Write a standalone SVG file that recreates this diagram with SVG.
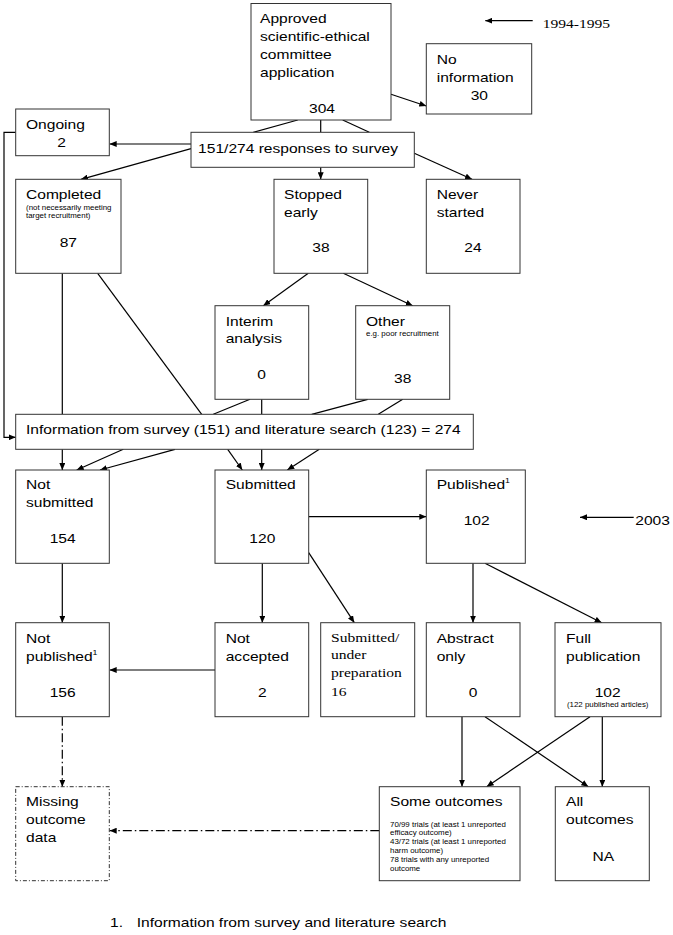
<svg xmlns="http://www.w3.org/2000/svg" width="673" height="935" viewBox="0 0 673 935">
<style>
.bg{fill:#fff}
.box{fill:#fff;stroke:#333;stroke-width:1}
.dbox{fill:#fff;stroke:#333;stroke-width:1;stroke-dasharray:4 2 1 2}
.m{font-family:"Liberation Sans",Arial,sans-serif;font-size:13.2px;fill:#000}
.s{font-size:6.7px}
.sup{font-size:7.5px}
.sf{font-family:"Liberation Serif","Times New Roman",serif}
.c{text-anchor:middle}
.ln{stroke:#000;stroke-width:1.2;fill:none}
.ar{marker-end:url(#ah)}
.dd{stroke-dasharray:9 3 1.5 3}
</style>
<defs>
<marker id="ah" viewBox="0 0 7 6" refX="7" refY="3" markerWidth="7" markerHeight="6" orient="auto" markerUnits="userSpaceOnUse">
<path d="M0,0 L7,3 L0,6 z" fill="#000"/>
</marker>
</defs>
<rect class="bg" x="0" y="0" width="673" height="935"/>

<g id="connectors">
<line class="ln" x1="297.7" y1="120" x2="253.3" y2="132.3"/>
<line class="ln" x1="320.7" y1="120" x2="320.7" y2="132.3"/>
<line class="ln" x1="342.7" y1="120" x2="369.3" y2="132.3"/>
<line class="ln ar" x1="391" y1="94.3" x2="426.3" y2="106"/>
<line class="ln ar" x1="532.7" y1="20.7" x2="485.3" y2="20.7"/>
<line class="ln ar" x1="191" y1="144" x2="109.7" y2="144"/>
<line class="ln ar" x1="191" y1="148.7" x2="81" y2="179.3"/>
<line class="ln ar" x1="320.7" y1="167.3" x2="320.7" y2="179.3"/>
<line class="ln ar" x1="414.3" y1="153.3" x2="472" y2="179.3"/>
<polyline class="ln ar" points="15.7,132.3 4,132.3 4,437.3 15.7,437.3"/>
<line class="ln" x1="62.3" y1="273.3" x2="62.3" y2="414.3"/>
<line class="ln" x1="97.7" y1="273.3" x2="201.7" y2="414.3"/>
<line class="ln ar" x1="308.3" y1="273.3" x2="263.3" y2="305.7"/>
<line class="ln ar" x1="343.3" y1="273.3" x2="412.7" y2="305.7"/>
<line class="ln" x1="250" y1="399.3" x2="213.3" y2="414.3"/>
<line class="ln" x1="261.7" y1="399.3" x2="261.7" y2="414.3"/>
<line class="ln" x1="367.7" y1="399.3" x2="311.7" y2="414.3"/>
<line class="ln" x1="402.7" y1="399.3" x2="378.3" y2="414.3"/>
<line class="ln ar" x1="62.3" y1="449.3" x2="62.3" y2="470"/>
<line class="ln ar" x1="123.3" y1="449.3" x2="76.7" y2="470"/>
<line class="ln ar" x1="175" y1="449.3" x2="100" y2="470"/>
<line class="ln ar" x1="227.7" y1="449.3" x2="242.3" y2="470"/>
<line class="ln ar" x1="261.7" y1="449.3" x2="261.7" y2="470"/>
<line class="ln ar" x1="319.3" y1="449.3" x2="287.3" y2="470"/>
<line class="ln ar" x1="308.7" y1="516.7" x2="426.3" y2="516.7"/>
<line class="ln ar" x1="633.7" y1="517.3" x2="580" y2="517.3"/>
<line class="ln ar" x1="62.3" y1="563.3" x2="62.3" y2="622.7"/>
<line class="ln ar" x1="262.3" y1="563.3" x2="262.3" y2="622.7"/>
<line class="ln ar" x1="308.7" y1="552.7" x2="354.3" y2="622.7"/>
<line class="ln ar" x1="473" y1="563.3" x2="473" y2="622.7"/>
<line class="ln ar" x1="485" y1="563.3" x2="601.7" y2="622.7"/>
<line class="ln ar" x1="215" y1="670" x2="109.7" y2="670"/>
<line class="ln ar dd" x1="62.3" y1="716.7" x2="62.3" y2="786.7"/>
<line class="ln ar" x1="462" y1="716.7" x2="462" y2="786.7"/>
<line class="ln ar" x1="485" y1="716.7" x2="588.3" y2="786.7"/>
<line class="ln ar" x1="590" y1="716.7" x2="486.7" y2="786.7"/>
<line class="ln ar" x1="602.3" y1="716.7" x2="602.3" y2="786.7"/>
<line class="ln ar dd" x1="379.3" y1="830.7" x2="109.7" y2="830.7"/>
</g>

<g id="approved">
<rect class="box" x="251" y="3.5" width="140" height="116.5"/>
<text class="m" transform="translate(260 0) scale(1.18 1)"><tspan x="0" y="22.7">Approved</tspan><tspan x="0" y="40.7">scientific-ethical</tspan><tspan x="0" y="58.7">committee</tspan><tspan x="0" y="76.7">application</tspan></text>
<text class="m c" transform="translate(322 0) scale(1.18 1)" y="112.7">304</text>
</g>
<g id="year1994">
<text class="m sf" transform="translate(542.7 0) scale(1.18 1)" y="28.3">1994-1995</text>
</g>
<g id="noinfo">
<rect class="box" x="426.3" y="43.7" width="105.4" height="70.3"/>
<text class="m" transform="translate(436.7 0) scale(1.18 1)"><tspan x="0" y="64">No</tspan><tspan x="0" y="81.7">information</tspan></text>
<text class="m c" transform="translate(479.3 0) scale(1.18 1)" y="100">30</text>
</g>
<g id="ongoing">
<rect class="box" x="15.7" y="109" width="93.6" height="46.7"/>
<text class="m" transform="translate(26 0) scale(1.18 1)" y="128.7">Ongoing</text>
<text class="m c" transform="translate(61.7 0) scale(1.18 1)" y="146.7">2</text>
</g>
<g id="survey">
<rect class="box" x="191" y="132.3" width="223.3" height="35"/>
<text class="m c" transform="translate(298 0) scale(1.18 1)" y="152.7">151/274 responses to survey</text>
</g>
<g id="completed">
<rect class="box" x="15.7" y="179.3" width="105.3" height="94"/>
<text class="m" transform="translate(26 0) scale(1.18 1)"><tspan x="0" y="199">Completed</tspan><tspan class="s" x="0" y="209.7">(not necessarily meeting</tspan><tspan class="s" x="0" y="218.3">target recruitment)</tspan></text>
<text class="m c" transform="translate(68.3 0) scale(1.18 1)" y="246.7">87</text>
</g>
<g id="stopped">
<rect class="box" x="274" y="179.3" width="93.7" height="94"/>
<text class="m" transform="translate(284 0) scale(1.18 1)"><tspan x="0" y="199">Stopped</tspan><tspan x="0" y="217">early</tspan></text>
<text class="m c" transform="translate(321 0) scale(1.18 1)" y="251.7">38</text>
</g>
<g id="never">
<rect class="box" x="426.3" y="179.3" width="93.7" height="94"/>
<text class="m" transform="translate(436.7 0) scale(1.18 1)"><tspan x="0" y="199">Never</tspan><tspan x="0" y="217">started</tspan></text>
<text class="m c" transform="translate(473 0) scale(1.18 1)" y="252.3">24</text>
</g>
<g id="interim">
<rect class="box" x="215" y="305.7" width="93.7" height="93.6"/>
<text class="m" transform="translate(225.7 0) scale(1.18 1)"><tspan x="0" y="325.7">Interim</tspan><tspan x="0" y="343.3">analysis</tspan></text>
<text class="m c" transform="translate(261.7 0) scale(1.18 1)" y="379.3">0</text>
</g>
<g id="other">
<rect class="box" x="355.7" y="305.7" width="94" height="93.6"/>
<text class="m" transform="translate(366 0) scale(1.18 1)"><tspan x="0" y="325.7">Other</tspan><tspan class="s" x="0" y="335.7">e.g. poor recruitment</tspan></text>
<text class="m c" transform="translate(402.7 0) scale(1.18 1)" y="382.7">38</text>
</g>
<g id="info274">
<rect class="box" x="15.7" y="414.3" width="457.6" height="35"/>
<text class="m" transform="translate(26 0) scale(1.18 1)" y="434">Information from survey (151) and literature search (123) = 274</text>
</g>
<g id="notsubmitted">
<rect class="box" x="15.7" y="470" width="93.6" height="93.3"/>
<text class="m" transform="translate(26 0) scale(1.18 1)"><tspan x="0" y="489.3">Not</tspan><tspan x="0" y="507.3">submitted</tspan></text>
<text class="m c" transform="translate(62.7 0) scale(1.18 1)" y="543.3">154</text>
</g>
<g id="submitted">
<rect class="box" x="215" y="470" width="93.7" height="93.3"/>
<text class="m" transform="translate(225.7 0) scale(1.18 1)" y="489.3">Submitted</text>
<text class="m c" transform="translate(262.3 0) scale(1.18 1)" y="543.3">120</text>
</g>
<g id="published">
<rect class="box" x="426.3" y="470" width="99" height="93.3"/>
<text class="m" transform="translate(436.7 0) scale(1.18 1)" y="489.3">Published<tspan class="sup" dy="-6">1</tspan></text>
<text class="m c" transform="translate(476.7 0) scale(1.18 1)" y="525">102</text>
</g>
<g id="year2003">
<text class="m" transform="translate(635.3 0) scale(1.18 1)" y="525">2003</text>
</g>
<g id="notpublished">
<rect class="box" x="15.7" y="622.7" width="93.6" height="94"/>
<text class="m" transform="translate(26 0) scale(1.18 1)"><tspan x="0" y="642.7">Not</tspan><tspan x="0" y="660.7">published<tspan class="sup" dy="-6">1</tspan></tspan></text>
<text class="m c" transform="translate(62.7 0) scale(1.18 1)" y="696.7">156</text>
</g>
<g id="notaccepted">
<rect class="box" x="215" y="622.7" width="93.7" height="94"/>
<text class="m" transform="translate(225.7 0) scale(1.18 1)"><tspan x="0" y="642.7">Not</tspan><tspan x="0" y="660.7">accepted</tspan></text>
<text class="m c" transform="translate(262.3 0) scale(1.18 1)" y="696.7">2</text>
</g>
<g id="underprep">
<rect class="box" x="320.7" y="622.7" width="94" height="94"/>
<text class="m sf" transform="translate(331 0) scale(1.18 1)"><tspan x="0" y="641.7">Submitted/</tspan><tspan x="0" y="659.3">under</tspan><tspan x="0" y="677.3">preparation</tspan><tspan x="0" y="695.7">16</tspan></text>
</g>
<g id="abstract">
<rect class="box" x="426.3" y="622.7" width="93.7" height="94"/>
<text class="m" transform="translate(436.7 0) scale(1.18 1)"><tspan x="0" y="642.7">Abstract</tspan><tspan x="0" y="660.7">only</tspan></text>
<text class="m c" transform="translate(473 0) scale(1.18 1)" y="696.7">0</text>
</g>
<g id="fullpub">
<rect class="box" x="555" y="622.7" width="106" height="94"/>
<text class="m" transform="translate(566 0) scale(1.18 1)"><tspan x="0" y="642.7">Full</tspan><tspan x="0" y="660.7">publication</tspan></text>
<text class="m c" transform="translate(607.7 0) scale(1.18 1)"><tspan x="0" y="696.7">102</tspan><tspan class="s" x="0" y="706.7">(122 published articles)</tspan></text>
</g>
<g id="missing">
<rect class="dbox" x="15.7" y="786.7" width="93.6" height="94"/>
<text class="m" transform="translate(26 0) scale(1.18 1)"><tspan x="0" y="806">Missing</tspan><tspan x="0" y="824">outcome</tspan><tspan x="0" y="842">data</tspan></text>
</g>
<g id="someoutcomes">
<rect class="box" x="379.3" y="786.7" width="140.7" height="94"/>
<text class="m" transform="translate(390 0) scale(1.18 1)"><tspan x="0" y="806">Some outcomes</tspan><tspan class="s" x="0" y="826.7">70/99 trials (at least 1 unreported</tspan><tspan class="s" x="0" y="835.4">efficacy outcome)</tspan><tspan class="s" x="0" y="844.3">43/72 trials (at least 1 unreported</tspan><tspan class="s" x="0" y="853">harm outcome)</tspan><tspan class="s" x="0" y="862">78 trials with any unreported</tspan><tspan class="s" x="0" y="870.7">outcome</tspan></text>
</g>
<g id="alloutcomes">
<rect class="box" x="555.3" y="786.7" width="94" height="94"/>
<text class="m" transform="translate(566 0) scale(1.18 1)"><tspan x="0" y="806">All</tspan><tspan x="0" y="824">outcomes</tspan></text>
<text class="m c" transform="translate(603.3 0) scale(1.18 1)" y="860.7">NA</text>
</g>
<g id="footnote">
<text class="m" transform="translate(110 0) scale(1.18 1)" y="926.7">1.</text>
<text class="m" transform="translate(136.7 0) scale(1.18 1)" y="926.7">Information from survey and literature search</text>
</g>
</svg>
